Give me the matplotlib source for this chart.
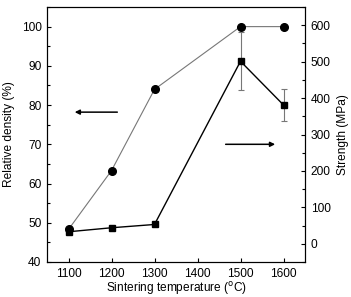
import matplotlib.pyplot as plt
from matplotlib.ticker import MultipleLocator

plt.rcParams['font.family'] = ['Liberation Sans', 'DejaVu Sans']
plt.rcParams['font.size'] = 8.6

# data
temp_density = [1100, 1200, 1300, 1500, 1600]
density = [48.3, 63.3, 84.0, 100.0, 100.0]

temp_strength = [1100, 1200, 1300, 1500, 1600]
strength = [33, 44, 53, 501, 381]
strength_err = [0, 0, 0, 80, 43]

fig = plt.figure(figsize=(3.51, 2.97), dpi=100)
ax = fig.add_axes([47/351, 35/297, 258/351, 255/297])

ax.plot(temp_density, density, color='#777777', lw=0.8, marker='o', ms=5.5,
        mfc='black', mec='black', zorder=3)
ax.set_xlim(1050, 1650)
ax.set_ylim(40, 105)
ax.xaxis.set_major_locator(MultipleLocator(100))
ax.yaxis.set_major_locator(MultipleLocator(10))
ax.yaxis.set_minor_locator(MultipleLocator(5))
ax.tick_params(direction='in', length=3, width=0.8, top=False, pad=4)
ax.tick_params(which='minor', direction='in', length=2, width=0.8)
ax.set_xlabel('Sintering temperature ($^{\\mathrm{o}}$C)', labelpad=0.5)
ax.set_ylabel('Relative density (%)', labelpad=5)

ax2 = ax.twinx()
ax2.errorbar(temp_strength, strength, yerr=strength_err, color='black',
             ecolor='#777777', elinewidth=0.8, capsize=2.5, capthick=0.8,
             lw=1.0, marker='s', ms=5, mfc='black', mec='black', zorder=2)
ax2.set_ylim(-50, 650)
ax2.yaxis.set_major_locator(MultipleLocator(100))
ax2.yaxis.set_minor_locator(MultipleLocator(50))
ax2.tick_params(direction='in', length=3, width=0.8, pad=4)
ax2.tick_params(which='minor', direction='in', length=2, width=0.8)
ax2.set_ylabel('Strength (MPa)', labelpad=5)

for a in (ax, ax2):
    for s in a.spines.values():
        s.set_linewidth(0.8)

# arrows pointing to each axis
ax.annotate('', xy=(1108, 78.2), xytext=(1220, 78.2),
            arrowprops=dict(arrowstyle='-|>', color='black', lw=1.1,
                            mutation_scale=7))
ax.annotate('', xy=(1587, 70), xytext=(1459, 70),
            arrowprops=dict(arrowstyle='-|>', color='black', lw=1.1,
                            mutation_scale=7))

fig.savefig('out.png', dpi=100)
